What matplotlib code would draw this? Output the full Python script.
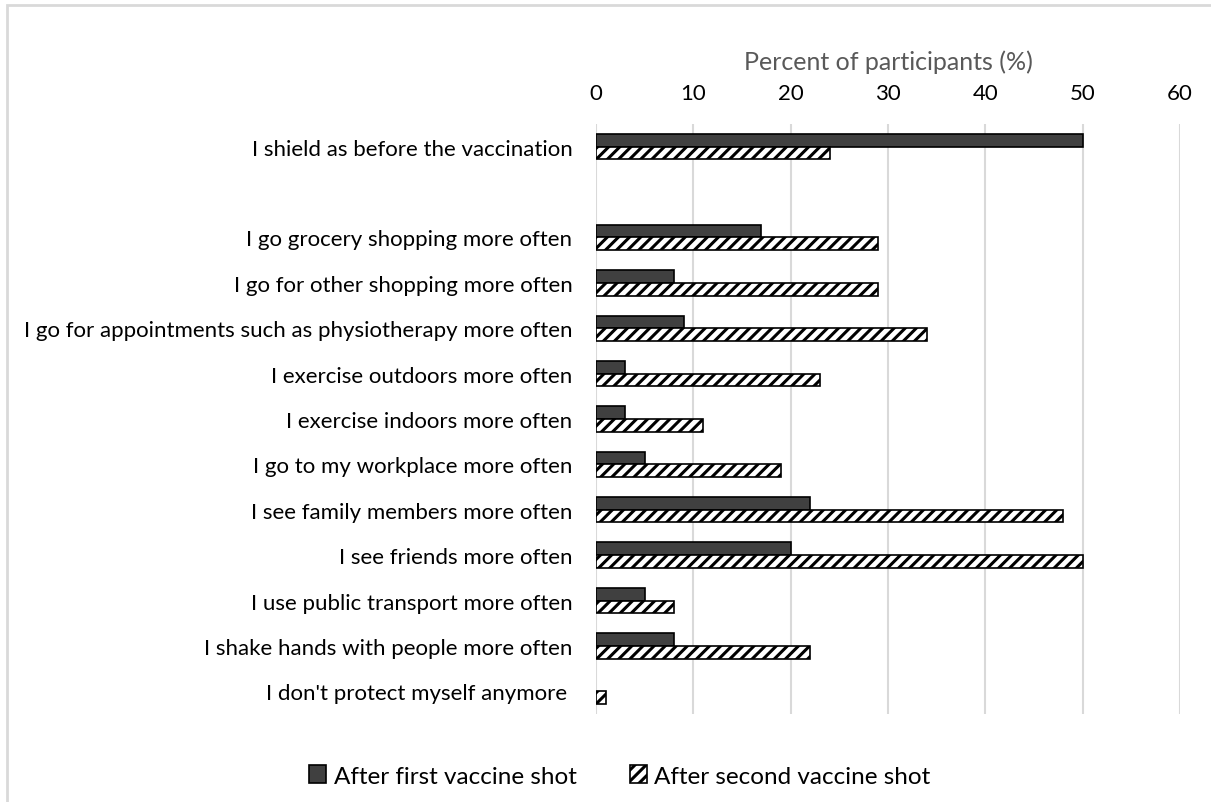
import numpy as np
import matplotlib.pyplot as plt
from matplotlib.patches import Rectangle

plt.rcParams['font.family'] = ['Lato', 'DejaVu Sans']
plt.rcParams['hatch.linewidth'] = 2.2

categories = [
    "I shield as before the vaccination",
    "",
    "I go grocery shopping more often",
    "I go for other shopping more often",
    "I go for appointments such as physiotherapy more often",
    "I exercise outdoors more often",
    "I exercise indoors more often",
    "I go to my workplace more often",
    "I see family members more often",
    "I see friends more often",
    "I use public transport more often",
    "I shake hands with people more often",
    "I don't protect myself anymore ",
]
first_shot = [50, 0, 17, 8, 9, 3, 3, 5, 22, 20, 5, 8, 0]
second_shot = [24, 0, 29, 29, 34, 23, 11, 19, 48, 50, 8, 22, 1]
series_names = ["After first vaccine shot", "After second vaccine shot"]
xticks = [0, 10, 20, 30, 40, 50, 60]

fig = plt.figure(figsize=(12.11, 8.03), dpi=100)
ax = fig.add_axes([596 / 1211, 1 - 715 / 803, 584 / 1211, 590 / 803])

y = np.arange(len(categories))
h = 0.28
# no outline on empty bars
lw1 = [1.2 if v > 0 else 0 for v in first_shot]
lw2 = [1.2 if v > 0 else 0 for v in second_shot]
ax.barh(y - h / 2, first_shot, height=h, color="#404040", edgecolor="black",
        linewidth=lw1, label=series_names[0], zorder=3)
ax.barh(y + h / 2, second_shot, height=h, color="white", edgecolor="black",
        hatch="///", linewidth=lw2, label=series_names[1], zorder=3)

ax.set_ylim(len(categories) - 0.5, -0.5)
ax.set_yticks(y)
ax.set_yticklabels(categories, fontsize=16)
ax.set_xlim(0, 60)
ax.set_xticks(xticks)
ax.xaxis.tick_top()
ax.xaxis.set_label_position('top')
ax.tick_params(axis='x', length=0, pad=15, labelsize=16)
ax.tick_params(axis='y', length=0, pad=17)
ax.set_xlabel("Percent of participants (%)", fontsize=18, color="#595959", labelpad=10)
ax.grid(axis='x', color="#d9d9d9", linewidth=1.5, zorder=0)
for s in ax.spines.values():
    s.set_visible(False)

fig.legend(loc='center', bbox_to_anchor=(0.512, 1 - 777 / 803), ncol=2, frameon=False,
           fontsize=17.5, handlelength=0.7, handleheight=0.7, handletextpad=0.3,
           columnspacing=2.2)

fig.patches.append(Rectangle((7 / 1211, -0.1), 1.2, 1 - 6 / 803 + 0.1,
                             transform=fig.transFigure, fill=False,
                             edgecolor="#d9d9d9", linewidth=2, clip_on=False))

fig.savefig("out.png", dpi=100)
